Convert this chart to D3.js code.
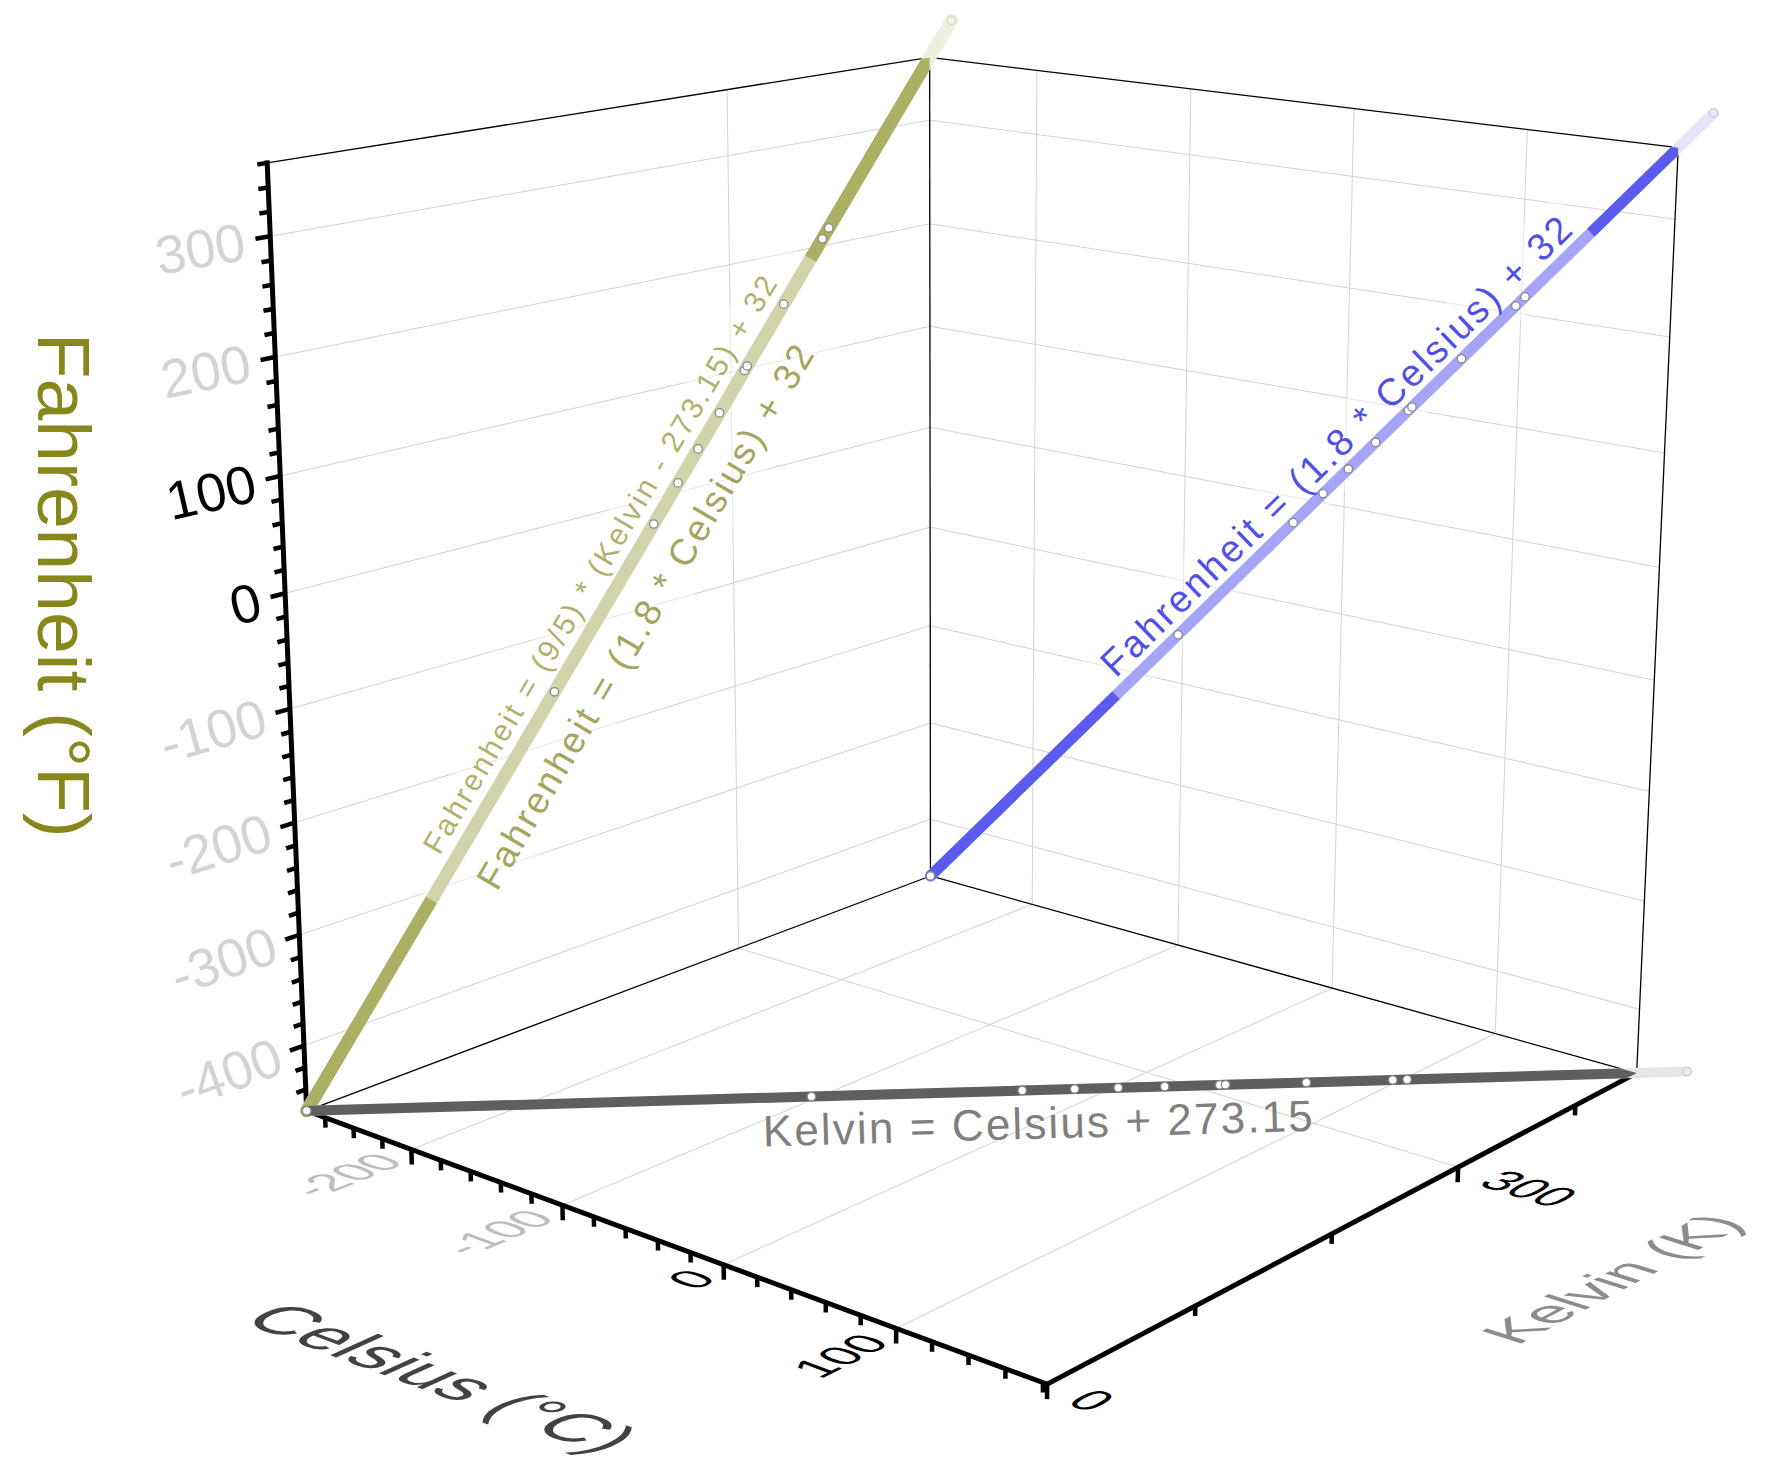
<!DOCTYPE html>
<html>
<head>
<meta charset="utf-8">
<title>Kelvin, Celsius and Fahrenheit in 3D</title>
<script src="https://cdn.jsdelivr.net/npm/d3@7/dist/d3.min.js"></script>
<style>
  body { margin: 0; background: #fff; }
  svg { display: block; }
  text { font-family: "Liberation Sans", Arial, sans-serif; }
</style>
</head>
<body>
<div id="chart"></div>
<script>
// ---- data -------------------------------------------------------------
const celsius    = [-273.15, -103, -31, -13, 2, 18, 37, 39, 67, 97, 102, 200];
const kelvin     = [0, 170.15, 242.15, 260.15, 275.15, 291.15, 310.15, 312.15, 340.15, 370.15, 375.15, 473.15];
const fahrenheit = [-459.67, -153.4, -23.8, 8.6, 35.6, 64.4, 98.6, 102.2, 152.6, 206.6, 215.6, 392];

const celsiusDomain    = [-273.15, 182.22];
const kelvinDomain     = [0, 455.37];
const fahrenheitDomain = [-459.67, 360];

const fMajorTicks = [-400, -300, -200, -100, 0, 100, 200, 300];
const cMajorTicks = [-200, -100, 0, 100];
const kMajorTicks = [0, 300];
const fDarkLabels = [100, 0];
const cDarkLabels = [0, 100];

// ---- box layout: where the unit cube's corners land on screen ---------
const boxCorners = [
  { cube: [0, 0, 0], screen: [307, 1110] },
  { cube: [0, 0, 1], screen: [267, 163] },
  { cube: [0, 1, 0], screen: [930, 877] },
  { cube: [0, 1, 1], screen: [930, 57] },
  { cube: [1, 0, 0], screen: [1047, 1385] },
  { cube: [1, 1, 0], screen: [1637, 1072] },
  { cube: [1, 1, 1], screen: [1678, 148] }
];

// perspective camera fitted to the corners (DLT, least squares)
function solveProjection(pairs) {
  const sx = 900, sy = 700, s = 700;
  const rows = [], rhs = [];
  pairs.forEach(({ cube: [u, v, w], screen: [X, Y] }) => {
    const x = (X - sx) / s, y = (Y - sy) / s;
    rows.push([u, v, w, 1, 0, 0, 0, 0, -x * u, -x * v, -x * w]); rhs.push(x);
    rows.push([0, 0, 0, 0, u, v, w, 1, -y * u, -y * v, -y * w]); rhs.push(y);
  });
  const n = 11;
  const M = d3.range(n).map(i => d3.range(n + 1).map(j =>
    j < n ? d3.sum(rows, r => r[i] * r[j]) : d3.sum(rows, (r, k) => r[i] * rhs[k])));
  for (let i = 0; i < n; i++) {
    let p = i;
    for (let r = i + 1; r < n; r++) if (Math.abs(M[r][i]) > Math.abs(M[p][i])) p = r;
    [M[i], M[p]] = [M[p], M[i]];
    for (let r = 0; r < n; r++) {
      if (r === i) continue;
      const f = M[r][i] / M[i][i];
      for (let c = i; c <= n; c++) M[r][c] -= f * M[i][c];
    }
  }
  const q = M.map((r, i) => r[n] / r[i]);
  return ([u, v, w]) => {
    const d = q[8] * u + q[9] * v + q[10] * w + 1;
    return [sx + s * (q[0] * u + q[1] * v + q[2] * w + q[3]) / d,
            sy + s * (q[4] * u + q[5] * v + q[6] * w + q[7]) / d];
  };
}
const project = solveProjection(boxCorners);

const xC = d3.scaleLinear().domain(celsiusDomain).range([0, 1]);
const yK = d3.scaleLinear().domain(kelvinDomain).range([0, 1]);
const zF = d3.scaleLinear().domain(fahrenheitDomain).range([0, 1]);
const P = (c, k, f) => project([xC(c), yK(k), zF(f)]);

const [cMin, cMax] = celsiusDomain, [kMin, kMax] = kelvinDomain, [fMin, fMax] = fahrenheitDomain;

function unit(a, b) {
  const dx = b[0] - a[0], dy = b[1] - a[1], L = Math.hypot(dx, dy);
  return [dx / L, dy / L];
}
const neg = v => [-v[0], -v[1]];
const add = (p, v, s) => [p[0] + v[0] * s, p[1] + v[1] * s];
const perp = v => [v[1], -v[0]];            // screen "up" for a baseline
const planeMatrix = (o, along, up) =>
  `matrix(${along[0]},${along[1]},${-up[0]},${-up[1]},${o[0]},${o[1]})`;

const svg = d3.select("#chart").append("svg").attr("width", 1768).attr("height", 1478);
const line = d3.line();

// ---- grid on the three back planes -----------------------------------
const grid = svg.append("g").attr("stroke", "#d2d2d2").attr("stroke-width", 1).attr("fill", "none");
const segs = [];
fMajorTicks.forEach(f => {
  segs.push([P(cMin, kMin, f), P(cMin, kMax, f)]);
  segs.push([P(cMin, kMax, f), P(cMax, kMax, f)]);
});
cMajorTicks.forEach(c => {
  segs.push([P(c, kMax, fMin), P(c, kMax, fMax)]);
  segs.push([P(c, kMin, fMin), P(c, kMax, fMin)]);
});
kMajorTicks.filter(k => k > kMin).forEach(k => {
  segs.push([P(cMin, k, fMin), P(cMin, k, fMax)]);
  segs.push([P(cMin, k, fMin), P(cMax, k, fMin)]);
});
grid.selectAll("path").data(segs).join("path").attr("d", line);

// ---- box frame --------------------------------------------------------
const frame = [
  [P(cMin, kMin, fMax), P(cMin, kMax, fMax)],
  [P(cMin, kMax, fMax), P(cMax, kMax, fMax)],
  [P(cMin, kMax, fMin), P(cMin, kMax, fMax)],
  [P(cMax, kMax, fMin), P(cMax, kMax, fMax)],
  [P(cMin, kMin, fMin), P(cMin, kMax, fMin)],
  [P(cMin, kMax, fMin), P(cMax, kMax, fMin)]
];
svg.append("g").attr("stroke", "#000").attr("stroke-width", 1.3).attr("fill", "none")
  .selectAll("path").data(frame).join("path").attr("d", line);

// ---- axes and ticks ---------------------------------------------------
const axes = svg.append("g").attr("stroke", "#000").attr("stroke-width", 5)
  .attr("stroke-linecap", "square").attr("fill", "none");
axes.append("path").attr("d", line([P(cMin, kMin, fMin), P(cMin, kMin, fMax)]));
axes.append("path").attr("d", line([P(cMin, kMin, fMin), P(cMax, kMin, fMin)]));
axes.append("path").attr("d", line([P(cMax, kMin, fMin), P(cMax, kMax, fMin)]));

const ticks = svg.append("g").attr("stroke", "#000").attr("stroke-width", 4.5).attr("fill", "none");
d3.range(-440, 361, 20).forEach(f => {
  const o = P(cMin, kMin, f), d = unit(o, P(cMin, kMin - 10, f));
  const len = fMajorTicks.includes(f) ? 15 : 10;
  ticks.append("path").attr("d", line([o, add(o, d, len)]));
});
d3.range(-260, 181, 20).forEach(c => {
  const o = P(c, kMin, fMin), d = unit(o, P(c, kMin, fMin - 10));
  const len = cMajorTicks.includes(c) ? 15 : 10;
  ticks.append("path").attr("d", line([o, add(o, d, len)]));
});
d3.range(0, 455, 100).forEach(k => {
  const o = P(cMax, k, fMin), d = unit(o, P(cMax, k, fMin - 10));
  const len = kMajorTicks.includes(k) ? 15 : 10;
  ticks.append("path").attr("d", line([o, add(o, d, len)]));
});

// ---- tick labels ------------------------------------------------------
const labels = svg.append("g");
fMajorTicks.forEach(f => {
  const o = P(cMin, kMin, f);
  const minusK = unit(o, P(cMin, kMin - 10, f)), along = neg(minusK);
  labels.append("text")
    .attr("transform", planeMatrix(add(o, minusK, 26), along, perp(along)))
    .attr("text-anchor", "end").attr("dominant-baseline", "central")
    .attr("font-size", 54).attr("fill", fDarkLabels.includes(f) ? "#000" : "#d3d3d3")
    .text(f);
});
cMajorTicks.forEach(c => {
  const o = P(c, kMin, fMin);
  const minusK = unit(o, P(c, kMin - 10, fMin));
  const up = unit(o, P(c - 10, kMin, fMin));
  labels.append("text")
    .attr("transform", planeMatrix(add(o, minusK, 22), neg(minusK), up))
    .attr("text-anchor", "end").attr("dominant-baseline", "central")
    .attr("font-size", 48).attr("fill", cDarkLabels.includes(c) ? "#000" : "#bdbdbd")
    .text(c);
});
kMajorTicks.forEach(k => {
  const o = P(cMax, k, fMin);
  const plusC = unit(o, P(cMax + 10, k, fMin));
  const up = unit(o, P(cMax, k + 10, fMin));
  labels.append("text")
    .attr("transform", planeMatrix(add(o, plusC, 34), plusC, up))
    .attr("dominant-baseline", "central")
    .attr("font-size", 48).attr("fill", "#000")
    .text(k);
});

// ---- axis titles ------------------------------------------------------
{
  const o = P(cMin, kMin, 0);
  svg.append("text")
    .attr("transform", `translate(${o[0] - 221},${o[1] - 8}) rotate(90)`)
    .attr("text-anchor", "middle").attr("dominant-baseline", "central")
    .attr("font-size", 75).attr("fill", "#87871c")
    .text("Fahrenheit (°F)");
}
{
  const cAt = -10;
  const o = P(cAt, kMin, fMin);
  const minusK = unit(o, P(cAt, kMin - 10, fMin));
  const along = unit(o, P(cAt + 10, kMin, fMin)), up = unit(o, P(cAt, kMin + 10, fMin));
  svg.append("text")
    .attr("transform", planeMatrix(add(o, minusK, 290), along, up))
    .attr("text-anchor", "middle").attr("dominant-baseline", "central")
    .attr("font-size", 72).attr("fill", "#424242")
    .text("Celsius (°C)");
}
{
  const kAt = 240;
  const o = P(cMax, kAt, fMin);
  const plusC = unit(o, P(cMax + 10, kAt, fMin));
  const along = unit(o, P(cMax, kAt + 10, fMin)), up = neg(plusC);
  svg.append("text")
    .attr("transform", planeMatrix(add(o, plusC, 240), along, up))
    .attr("text-anchor", "middle").attr("dominant-baseline", "central")
    .attr("font-size", 60).attr("fill", "#8c8c8c")
    .text("Kelvin (K)");
}

// ---- the three projected series --------------------------------------
const idx = d3.range(celsius.length);
const series = [
  { // Fahrenheit vs Kelvin, on the Celsius = min wall
    color: "#abb064", tail: "#eef0de", width: 13,
    pt: i => P(cMin, kelvin[i], fahrenheit[i]),
    at: c => P(cMin, c + 273.15, 1.8 * c + 32),
    clip: [[0, -0.2, -0.2], [0, 1, -0.2], [0, 1, 1], [0, -0.2, 1]]
  },
  { // Fahrenheit vs Celsius, on the Kelvin = max wall
    color: "#5b5bf0", tail: "#e4e4fb", width: 11,
    pt: i => P(celsius[i], kMax, fahrenheit[i]),
    at: c => P(c, kMax, 1.8 * c + 32),
    clip: [[-0.2, 1, -0.2], [1, 1, -0.2], [1, 1, 1], [-0.2, 1, 1]]
  },
  { // Kelvin vs Celsius, on the floor
    color: "#5f5f5f", tail: "#e6e6e6", width: 10,
    pt: i => P(celsius[i], kelvin[i], fMin),
    at: c => P(c, c + 273.15, fMin),
    clip: [[-0.2, -0.2, 0], [1, -0.2, 0], [1, 1, 0], [-0.2, 1, 0]]
  }
];

const defs = svg.append("defs");
series.forEach((s, si) => {
  defs.append("clipPath").attr("id", "wall" + si)
    .append("path").attr("d", line(s.clip.map(project)) + "Z");
  const pts = idx.map(s.pt);
  svg.append("path").attr("d", line(pts)).attr("fill", "none")
    .attr("stroke", s.tail).attr("stroke-width", s.width).attr("stroke-linecap", "round");
  svg.append("path").attr("d", line(pts)).attr("fill", "none")
    .attr("clip-path", `url(#wall${si})`)
    .attr("stroke", s.color).attr("stroke-width", s.width).attr("stroke-linecap", "round");
});

// ---- equation labels (white translucent boxes lighten the line) -------
const boxLayer = svg.append("g");
const dotLayer = svg.append("g");
const textLayer = svg.append("g");

function lineLabel(s, cAt, boxLen, boxTop, boxBottom) {
  const a = s.at(cAt), b = s.at(cAt + 1);
  const ang = Math.atan2(b[1] - a[1], b[0] - a[0]) * 180 / Math.PI;
  const tr = `translate(${a}) rotate(${ang})`;
  if (boxLen) {
    boxLayer.append("rect").attr("transform", tr)
      .attr("x", -boxLen / 2).attr("width", boxLen)
      .attr("y", boxTop).attr("height", boxBottom - boxTop)
      .attr("fill", "#fff").attr("fill-opacity", 0.45);
  }
  return tr;
}
function addText(tr, dx, dy, size, len, color, str) {
  textLayer.append("text")
    .attr("transform", tr)
    .attr("x", dx - len / 2).attr("y", dy)
    .attr("textLength", len).attr("lengthAdjust", "spacing")
    .attr("dominant-baseline", "central")
    .attr("font-size", size).attr("fill", color).text(str);
}

const oliveT = lineLabel(series[0], -55, 745, -45, 70);
addText(oliveT, 2, -26, 30, 665, "#b0b16c", "Fahrenheit = (9/5) * (Kelvin - 273.15) + 32");
addText(oliveT, -20, 40, 37, 625, "#a4a55e", "Fahrenheit  =  (1.8 * Celsius)  +  32");

const blueT = lineLabel(series[1], 5, 663, -52, 14);
addText(blueT, 0, -25, 38, 640, "#5050e6", "Fahrenheit  =  (1.8 * Celsius)  +  32");

const grayT = lineLabel(series[2], -26, 0, 0, 0);
addText(grayT, 0, 33, 44, 550, "#7f7f7f", "Kelvin  =  Celsius  +  273.15");

// ---- data points on every wall ---------------------------------------
series.forEach(s => {
  dotLayer.selectAll(null).data(idx).join("circle")
    .attr("cx", i => s.pt(i)[0]).attr("cy", i => s.pt(i)[1]).attr("r", 4.2)
    .attr("fill", "#fff").attr("stroke", "#8a8a8a").attr("stroke-width", 1.3)
    .attr("opacity", i => celsius[i] > cMax ? 0.25 : 1);
});
</script>
</body>
</html>
